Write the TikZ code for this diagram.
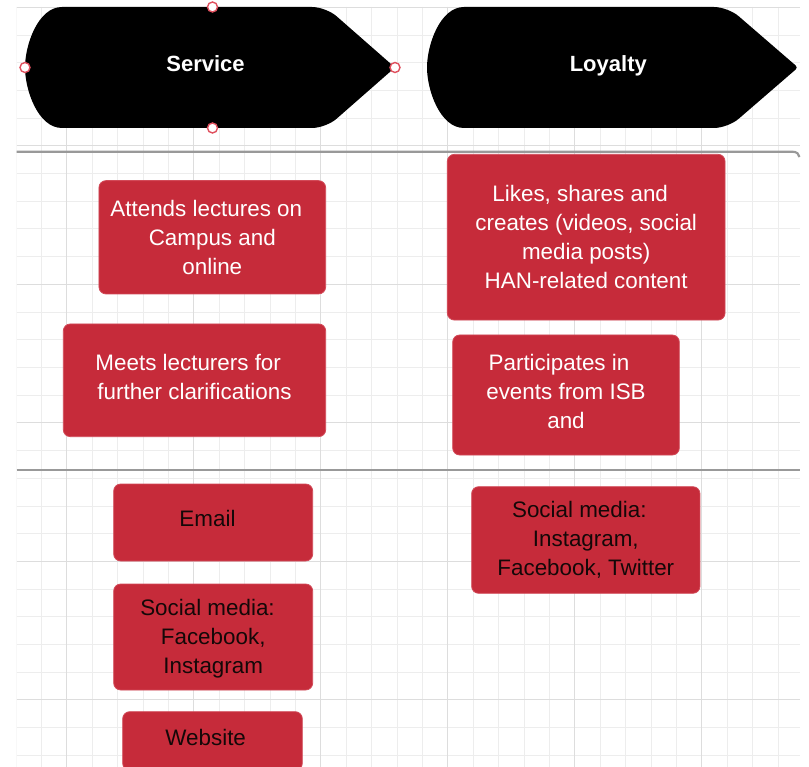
\documentclass[tikz,border=0pt]{standalone}
\usepackage{fontspec}
\setmainfont{Liberation Sans}
\definecolor{boxred}{HTML}{C62B3A}
\definecolor{boxedge}{HTML}{D24A58}
\definecolor{portred}{HTML}{E0505E}
\definecolor{gridminor}{HTML}{EDEDED}
\definecolor{gridmajor}{HTML}{DDDDDD}
\definecolor{divgray}{HTML}{999999}
\definecolor{inkdark}{HTML}{140808}
\begin{document}
\begin{tikzpicture}[x=1pt,y=-1pt,
  card/.style={fill=boxred, draw=boxedge, line width=0.8pt, rounded corners=7pt,
    inner sep=0pt},
  cardtext/.style={inner sep=0pt, align=center, font=\fontsize{22.4}{29}\selectfont},
  lighttext/.style={cardtext, text=white},
  darktext/.style={cardtext, text=inkdark},
  title/.style={text=white, anchor=base, inner sep=0pt,
    font=\fontsize{22}{26}\selectfont\bfseries},
  port/.style={circle, draw=portred, fill=white, line width=1.4pt,
    minimum size=10pt, inner sep=0pt},
  minorline/.style={draw=gridminor, line width=0.8pt},
  majorline/.style={draw=gridmajor, line width=1pt},
  divider/.style={draw=divgray, line width=2.2pt},
  banner/.style={fill=black}
]
\useasboundingbox (0,0) rectangle (809,767);
\fill[white] (0,0) rectangle (809,767);

% background grid
\begin{scope}
  \clip (16.5,7) rectangle (800,767);
  \foreach \k in {-2,...,29} {
    \pgfmathsetmacro\gx{66.7+25.4*\k}
    \draw[minorline] (\gx,7) -- (\gx,767);
  }
  \foreach \k in {0,...,27} {
    \pgfmathsetmacro\gy{7.3+27.7*\k}
    \draw[minorline] (16.5,\gy) -- (800,\gy);
  }
  \foreach \k in {0,5,...,25} {
    \pgfmathsetmacro\gx{66.7+25.4*\k}
    \draw[majorline] (\gx,7) -- (\gx,767);
    \pgfmathsetmacro\gy{7.3+27.7*\k}
    \draw[majorline] (16.5,\gy) -- (800,\gy);
  }
\end{scope}

% lane dividers
\draw[divider] (16.5,151.7) -- (792,151.7) .. controls (797,151.7) and (799,154) .. (799.5,157);
\draw[divider] (16.5,470) -- (800,470);

% stage banners
\fill[banner] (62,128) .. controls (38,128) and (25,90) .. (25,67.5)
  .. controls (25,45) and (38,7) .. (62,7)
  [rounded corners=14pt] -- (326,7) [sharp corners] -- (395,67.5)
  [rounded corners=14pt] -- (326,128) [sharp corners] -- cycle;
\fill[banner] (464,128) .. controls (440,128) and (427,90) .. (427,67.5)
  .. controls (427,45) and (440,7) .. (464,7)
  [rounded corners=14pt] -- (728,7) [rounded corners=3pt] -- (798,67.5)
  [rounded corners=14pt] -- (728,128) [sharp corners] -- cycle;
\node[title] (service) at (205.5,71.7) {Service};
\node[title] (loyalty) at (608.3,71.7) {Loyalty};

% connection points of the selected banner
\node[port] (pw) at (25,67.5) {};
\node[port] (pn) at (212.5,7) {};
\node[port] (ps) at (212.5,128) {};
\node[port] (pe) at (395,67.5) {};

% activity cards
\node[card, minimum width=226.7pt, minimum height=113.3pt] (attend) at (212.3,237.3) {};
\node[lighttext] (attend-t) at (attend.center)
  {Attends lectures on\kern12pt\\Campus and\\online};
\node[card, minimum width=262.4pt, minimum height=112.7pt] (meet) at (194.5,380.3) {};
\node[lighttext] (meet-t) at ([yshift=3.6pt]meet.center)
  {Meets lecturers for\kern12.6pt\\further clarifications};
\node[card, minimum width=277.7pt, minimum height=165.7pt] (likes) at (586.2,237.2) {};
\node[lighttext] (likes-t) at (likes.center)
  {Likes, shares and\kern12pt\\creates (videos, social\\media posts)\\HAN-related content};
\node[card, minimum width=226.6pt, minimum height=120pt] (events) at (566,395) {};
\node[lighttext] (events-t) at ([yshift=4pt]events.center)
  {Participates in\kern14pt\\events from ISB\\and};

% channel cards
\node[card, minimum width=199pt, minimum height=77pt] (email) at (213.2,522.5) {};
\node[darktext] (email-t) at ([yshift=4pt]email.center) {Email\kern11.4pt};
\node[card, minimum width=199pt, minimum height=106pt] (socials) at (213.2,637) {};
\node[darktext] (socials-t) at ([yshift=-1.5pt]socials.center)
  {Social media:\kern11.4pt\\Facebook,\\Instagram};
\node[card, minimum width=179.6pt, minimum height=58.6pt] (website) at (212.5,741) {};
\node[darktext] (website-t) at ([yshift=4pt]website.center) {Website\kern13.6pt};
\node[card, minimum width=228.3pt, minimum height=106.6pt] (socialL) at (585.8,540) {};
\node[darktext] (socialL-t) at (socialL.center)
  {Social media:\kern13pt\\Instagram,\\Facebook, Twitter};
\end{tikzpicture}
\end{document}
